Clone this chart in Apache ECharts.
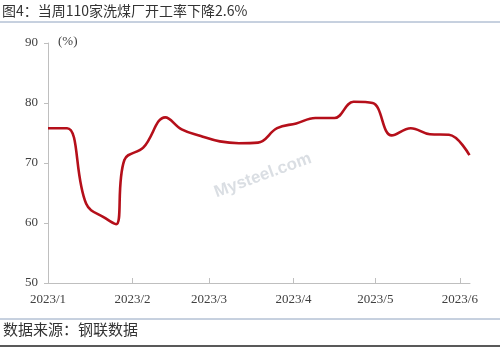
<!DOCTYPE html>
<html>
<head>
<meta charset="utf-8">
<script src="https://cdn.jsdelivr.net/npm/echarts@6/dist/echarts.min.js"></script>
<style>
html,body{margin:0;padding:0;background:#fff;}
#c{width:500px;height:347px;}
</style>
</head>
<body>
<div id="c"></div>
<script>
// Days since 2023-01-01 and weekly operating rate (%)
var days = [0, 7, 14, 21, 25, 28, 35, 43, 49, 56, 63, 70, 77, 84, 91, 98, 105, 112, 119, 126, 133, 140, 147, 154.5];
var rates = [75.8, 75.8, 63.2, 60.8, 59.8, 70.5, 72.6, 77.6, 75.6, 74.5, 73.6, 73.3, 73.4, 75.8, 76.6, 77.5, 77.5, 80.2, 80.0, 74.6, 75.8, 74.8, 74.7, 71.3];
var monthDays = [0, 31, 59, 90, 120, 151];
var monthLabels = ['2023/1', '2023/2', '2023/3', '2023/4', '2023/5', '2023/6'];
var titleText = '图4：当周110家洗煤厂开工率下降2.6%';
var sourceText = '数据来源：钢联数据';

var chart = echarts.init(document.getElementById('c'), null, {renderer: 'canvas'});
var pts = days.map(function (d, i) { return [d, rates[i]]; });
var labelMap = {};
monthDays.forEach(function (d, i) { labelMap[d] = monthLabels[i]; });

chart.setOption({
  animation: false,
  backgroundColor: '#fff',
  grid: {left: 48, right: 30, top: 43, bottom: 64},
  xAxis: {
    type: 'value',
    min: 0,
    max: 154.7,
    axisLine: {show: true, lineStyle: {color: '#bfbfbf', width: 1}},
    axisTick: {show: true, inside: true, length: 5, customValues: monthDays, lineStyle: {color: '#bfbfbf'}},
    axisLabel: {
      customValues: monthDays,
      formatter: function (v) { return labelMap[v] || ''; },
      fontFamily: 'Liberation Serif', fontSize: 13, color: '#404040', margin: 10
    },
    splitLine: {show: false}
  },
  yAxis: {
    type: 'value',
    min: 50, max: 90, interval: 10,
    axisLine: {show: true, lineStyle: {color: '#bfbfbf', width: 1}},
    axisTick: {show: true, length: 4, lineStyle: {color: '#bfbfbf'}},
    axisLabel: {fontFamily: 'Liberation Serif', fontSize: 13, color: '#404040', margin: 10},
    splitLine: {show: false}
  },
  graphic: [
    {type: 'text', left: 2, top: 4, style: {text: titleText, font: '14px "Noto Sans CJK SC"', fill: '#333'}},
    {type: 'line', shape: {x1: 0, y1: 22, x2: 500, y2: 22}, style: {stroke: '#8ea2bf', lineWidth: 1}},
    {type: 'text', left: 58, top: 35, style: {text: '(%)', font: '13px "Liberation Serif"', fill: '#404040'}},
    {type: 'text', left: 212, top: 150, rotation: 0.35, style: {text: 'Mysteel.com', font: 'bold 17px "Liberation Sans"', fill: 'rgba(150,160,175,0.35)'}},
    {type: 'line', shape: {x1: 0, y1: 319, x2: 500, y2: 319}, style: {stroke: '#8ea2bf', lineWidth: 1}},
    {type: 'text', left: 3, top: 322, style: {text: sourceText, font: '15px "Noto Sans CJK SC"', fill: '#333'}},
    {type: 'line', shape: {x1: 0, y1: 346, x2: 500, y2: 346}, style: {stroke: '#222', lineWidth: 1.5}}
  ],
  series: [{
    type: 'line',
    data: pts,
    smooth: 0.4,
    showSymbol: false,
    lineStyle: {color: '#b50f1a', width: 2.6},
    z: 3
  }]
});
</script>
</body>
</html>
